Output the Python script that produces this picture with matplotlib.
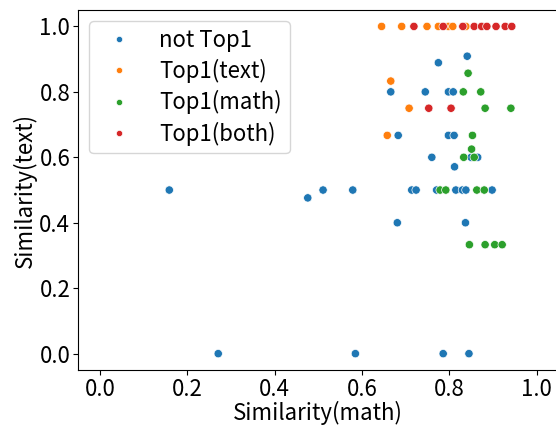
import matplotlib
matplotlib.use("Agg")
import matplotlib.pyplot as plt
import pandas as pd
import seaborn as sns

plt.rcParams['font.family'] = ['Noto Sans CJK JP', 'DejaVu Sans']

# values
categories = ['not Top1', 'Top1(text)', 'Top1(math)', 'Top1(both)']

not_top1_x = [0.841, 0.775, 0.666, 0.745, 0.798, 0.809, 0.683, 0.798, 0.811,
              0.760, 0.850, 0.865, 0.812, 0.714, 0.724, 0.771, 0.815, 0.830,
              0.838, 0.898, 0.159, 0.476, 0.511, 0.579, 0.681, 0.837,
              0.271, 0.585, 0.786, 0.845]
not_top1_y = [0.909, 0.889, 0.800, 0.800, 0.800, 0.800, 0.667, 0.667, 0.667,
              0.600, 0.600, 0.600, 0.571, 0.500, 0.500, 0.500, 0.500, 0.500,
              0.500, 0.500, 0.500, 0.476, 0.500, 0.500, 0.400, 0.400,
              0.0, 0.0, 0.0, 0.0]

text_x = [0.645, 0.691, 0.749, 0.775, 0.798, 0.808, 0.838, 0.666, 0.708, 0.658]
text_y = [1.0, 1.0, 1.0, 1.0, 1.0, 1.0, 1.0, 0.833, 0.750, 0.667]

math_x = [0.843, 0.832, 0.872, 0.882, 0.941, 0.853, 0.851, 0.833, 0.857,
          0.779, 0.792, 0.863, 0.880, 0.846, 0.882, 0.904, 0.921]
math_y = [0.857, 0.800, 0.800, 0.750, 0.750, 0.667, 0.625, 0.600, 0.600,
          0.500, 0.500, 0.500, 0.500, 0.333, 0.333, 0.333, 0.333]

both_x = [0.719, 0.786, 0.831, 0.857, 0.874, 0.886, 0.907, 0.928, 0.943,
          0.753, 0.804]
both_y = [1.0, 1.0, 1.0, 1.0, 1.0, 1.0, 1.0, 1.0, 1.0, 0.750, 0.750]

series = [(not_top1_x, not_top1_y), (text_x, text_y), (math_x, math_y), (both_x, both_y)]
df = pd.concat([pd.DataFrame({'math': xs, 'text': ys, 'label': cat})
                for cat, (xs, ys) in zip(categories, series)], ignore_index=True)

fig = plt.figure(figsize=(5.56, 4.28), dpi=100)
ax = fig.add_axes([0.1403, 0.1355, 0.8642, 0.841])
sns.scatterplot(data=df, x='math', y='text', hue='label', hue_order=categories, ax=ax, s=36)

ax.set_xlim(-0.05, 1.05)
ax.set_ylim(-0.05, 1.05)
ax.set_xticks([0.0, 0.2, 0.4, 0.6, 0.8, 1.0])
ax.set_yticks([0.0, 0.2, 0.4, 0.6, 0.8, 1.0])
ax.tick_params(labelsize=16, pad=2)
ax.set_xlabel('Similarity(math)', fontsize=16, labelpad=0)
ax.set_ylabel('Similarity(text)', fontsize=16, labelpad=2)
ax.legend(loc='upper left', fontsize=16, title=None, labelspacing=0.32,
          markerscale=0.75, borderpad=0.35)

fig.savefig('out.png', dpi=100)
